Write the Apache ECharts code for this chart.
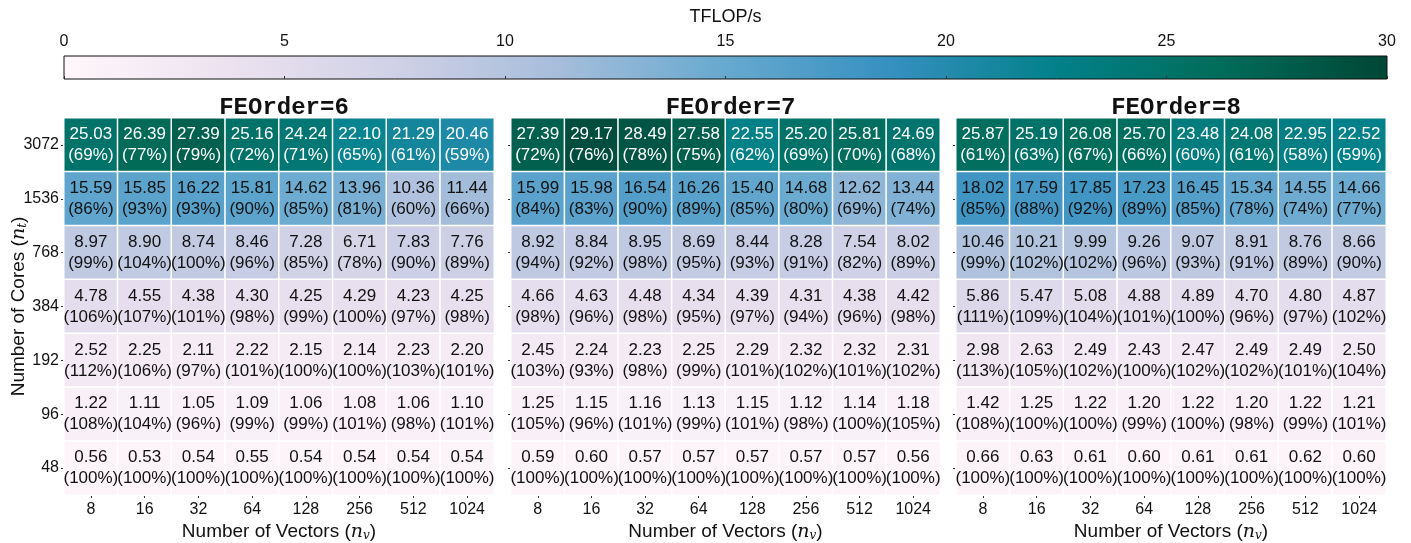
<!DOCTYPE html>
<html>
<head>
<meta charset="utf-8">
<script src="https://cdn.jsdelivr.net/npm/echarts@6/dist/echarts.min.js"></script>
<style>
  html, body { margin: 0; padding: 0; background: #fff; }
  #chart { width: 1411px; height: 543px; }
</style>
</head>
<body>
<div id="chart"></div>
<script>
// axis categories
var vectors = ['8', '16', '32', '64', '128', '256', '512', '1024'];
var cores = ['3072', '1536', '768', '384', '192', '96', '48'];
var colorTicks = [0, 5, 10, 15, 20, 25, 30];

// TFLOP/s, rows from 3072 cores down to 48
var fe6 = [
  [25.03, 26.39, 27.39, 25.16, 24.24, 22.10, 21.29, 20.46],
  [15.59, 15.85, 16.22, 15.81, 14.62, 13.96, 10.36, 11.44],
  [8.97, 8.90, 8.74, 8.46, 7.28, 6.71, 7.83, 7.76],
  [4.78, 4.55, 4.38, 4.30, 4.25, 4.29, 4.23, 4.25],
  [2.52, 2.25, 2.11, 2.22, 2.15, 2.14, 2.23, 2.20],
  [1.22, 1.11, 1.05, 1.09, 1.06, 1.08, 1.06, 1.10],
  [0.56, 0.53, 0.54, 0.55, 0.54, 0.54, 0.54, 0.54]
];
var fe6Pct = [
  [69, 77, 79, 72, 71, 65, 61, 59],
  [86, 93, 93, 90, 85, 81, 60, 66],
  [99, 104, 100, 96, 85, 78, 90, 89],
  [106, 107, 101, 98, 99, 100, 97, 98],
  [112, 106, 97, 101, 100, 100, 103, 101],
  [108, 104, 96, 99, 99, 101, 98, 101],
  [100, 100, 100, 100, 100, 100, 100, 100]
];
var fe7 = [
  [27.39, 29.17, 28.49, 27.58, 22.55, 25.20, 25.81, 24.69],
  [15.99, 15.98, 16.54, 16.26, 15.40, 14.68, 12.62, 13.44],
  [8.92, 8.84, 8.95, 8.69, 8.44, 8.28, 7.54, 8.02],
  [4.66, 4.63, 4.48, 4.34, 4.39, 4.31, 4.38, 4.42],
  [2.45, 2.24, 2.23, 2.25, 2.29, 2.32, 2.32, 2.31],
  [1.25, 1.15, 1.16, 1.13, 1.15, 1.12, 1.14, 1.18],
  [0.59, 0.60, 0.57, 0.57, 0.57, 0.57, 0.57, 0.56]
];
var fe7Pct = [
  [72, 76, 78, 75, 62, 69, 70, 68],
  [84, 83, 90, 89, 85, 80, 69, 74],
  [94, 92, 98, 95, 93, 91, 82, 89],
  [98, 96, 98, 95, 97, 94, 96, 98],
  [103, 93, 98, 99, 101, 102, 101, 102],
  [105, 96, 101, 99, 101, 98, 100, 105],
  [100, 100, 100, 100, 100, 100, 100, 100]
];
var fe8 = [
  [25.87, 25.19, 26.08, 25.70, 23.48, 24.08, 22.95, 22.52],
  [18.02, 17.59, 17.85, 17.23, 16.45, 15.34, 14.55, 14.66],
  [10.46, 10.21, 9.99, 9.26, 9.07, 8.91, 8.76, 8.66],
  [5.86, 5.47, 5.08, 4.88, 4.89, 4.70, 4.80, 4.87],
  [2.98, 2.63, 2.49, 2.43, 2.47, 2.49, 2.49, 2.50],
  [1.42, 1.25, 1.22, 1.20, 1.22, 1.20, 1.22, 1.21],
  [0.66, 0.63, 0.61, 0.60, 0.61, 0.61, 0.62, 0.60]
];
var fe8Pct = [
  [61, 63, 67, 66, 60, 61, 58, 59],
  [85, 88, 92, 89, 85, 78, 74, 77],
  [99, 102, 102, 96, 93, 91, 89, 90],
  [111, 109, 104, 101, 100, 96, 97, 102],
  [113, 105, 102, 100, 102, 102, 101, 104],
  [108, 100, 100, 99, 100, 98, 99, 101],
  [100, 100, 100, 100, 100, 100, 100, 100]
];

// PuBuGn
var palette = ['#fff7fb', '#ece2f0', '#d0d1e6', '#a6bddb', '#67a9cf', '#3690c0', '#02818a', '#016c59', '#014636'];
var font = '"Liberation Sans", "DejaVu Sans", sans-serif';

var panels = [
  { title: 'FEOrder=6', vals: fe6, pct: fe6Pct, left: 64, width: 430 },
  { title: 'FEOrder=7', vals: fe7, pct: fe7Pct, left: 511, width: 429 },
  { title: 'FEOrder=8', vals: fe8, pct: fe8Pct, left: 956, width: 430 }
];

function cells(vals, pct) {
  var out = [];
  for (var r = 0; r < vals.length; r++) {
    for (var c = 0; c < vals[r].length; c++) {
      out.push({
        value: [c, r, vals[r][c], pct[r][c]],
        label: { color: vals[r][c] > 19 ? '#ffffff' : '#111111' }
      });
    }
  }
  return out;
}

var chart = echarts.init(document.getElementById('chart'));

var grids = [], xAxes = [], yAxes = [], series = [], titles = [];

var nameRich = {
  t: { fontFamily: font, fontSize: 19, color: '#111' },
  i: { fontFamily: '"DejaVu Serif", serif', fontStyle: 'italic', fontSize: 19, color: '#111' },
  s: { fontFamily: '"DejaVu Serif", serif', fontStyle: 'italic', fontSize: 12, color: '#111', verticalAlign: 'bottom', padding: [8, 0, 0, 0] }
};

panels.forEach(function (p, i) {
  grids.push({ left: p.left, width: p.width, top: 118, height: 377, outerBoundsMode: 'none', containLabel: false });
  titles.push({
    text: p.title,
    left: p.left + p.width / 2,
    top: 91,
    textAlign: 'center',
    textStyle: { fontFamily: '"Liberation Mono", "DejaVu Sans Mono", monospace', fontWeight: 'bold', fontSize: 24, color: '#111' }
  });
  xAxes.push({
    type: 'category',
    gridIndex: i,
    data: vectors,
    axisLine: { show: false },
    axisTick: { show: true, alignWithLabel: true, length: 3, lineStyle: { color: '#333' } },
    axisLabel: { fontFamily: font, fontSize: 16, color: '#111', margin: 7 },
    name: '{t|Number of Vectors (}{i|n}{s|v}{t|)}',
    nameLocation: 'middle',
    nameGap: 27,
    nameMoveOverlap: false,
    nameTextStyle: { rich: nameRich }
  });
  yAxes.push({
    type: 'category',
    gridIndex: i,
    data: cores,
    inverse: true,
    axisLine: { show: false },
    axisTick: { show: true, alignWithLabel: true, length: 3, lineStyle: { color: '#333' } },
    axisLabel: { show: i === 0, fontFamily: font, fontSize: 16, color: '#111', margin: 5 },
    name: i === 0 ? '{t|Number of Cores (}{i|n}{s|t}{t|)}' : '',
    nameLocation: 'middle',
    nameGap: 35,
    nameMoveOverlap: false,
    nameRotate: 90,
    nameTextStyle: { rich: nameRich }
  });
  series.push({
    type: 'heatmap',
    xAxisIndex: i,
    yAxisIndex: i,
    data: cells(p.vals, p.pct),
    itemStyle: { borderColor: '#ffffff', borderWidth: 1.5 },
    label: {
      show: true,
      fontFamily: font,
      fontSize: 17,
      lineHeight: 21,
      formatter: function (prm) {
        return prm.value[2].toFixed(2) + '\n(' + prm.value[3] + '%)';
      }
    },
    emphasis: { disabled: true }
  });
});

// colorbar as its own grid with a gradient fill
grids.push({
  left: 64, width: 1323, top: 56, height: 23,
  outerBoundsMode: 'none',
  show: true,
  borderColor: '#111',
  borderWidth: 1,
  backgroundColor: new echarts.graphic.LinearGradient(0, 0, 1, 0, palette.map(function (c, k) {
    return { offset: k / (palette.length - 1), color: c };
  }))
});
xAxes.push({
  type: 'value',
  gridIndex: 3,
  position: 'top',
  min: 0,
  max: 30,
  interval: 5,
  splitLine: { show: false },
  axisLine: { show: false },
  axisTick: { show: true, length: 3, lineStyle: { color: '#333' } },
  axisLabel: { fontFamily: font, fontSize: 16, color: '#111', margin: 6, formatter: function (v) { return colorTicks.indexOf(v) >= 0 ? String(v) : ''; } },
  name: 'TFLOP/s',
  nameLocation: 'middle',
  nameGap: 30,
  nameMoveOverlap: false,
  nameTextStyle: { fontFamily: font, fontSize: 18, color: '#111' }
});
yAxes.push({ type: 'value', gridIndex: 3, show: false, min: 0, max: 1 });

chart.setOption({
  animation: false,
  backgroundColor: '#ffffff',
  title: titles,
  grid: grids,
  xAxis: xAxes,
  yAxis: yAxes,
  visualMap: {
    type: 'continuous',
    show: false,
    min: 0,
    max: 30,
    dimension: 2,
    seriesIndex: [0, 1, 2],
    inRange: { color: palette }
  },
  series: series
});
</script>
</body>
</html>
